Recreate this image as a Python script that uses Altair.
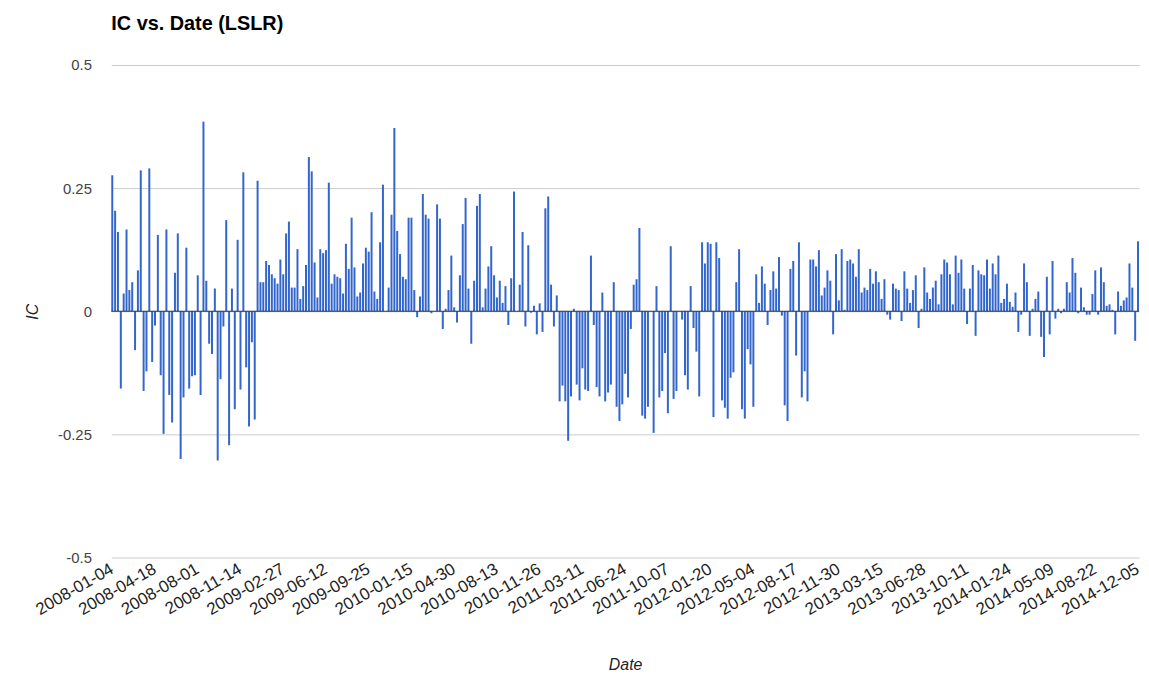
import altair as alt
import pandas as pd

# IC values, in date order (weekly, Fridays)
ic_part01 = [0.276, 0.204, 0.161, -0.157, 0.036, 0.166, 0.043, 0.059, -0.079, 0.083,
             0.286, -0.162, -0.122, 0.290, -0.103, -0.029, 0.155, -0.130, -0.249, 0.166,
             -0.170, -0.226, 0.078, 0.158, -0.300, -0.175, 0.129, -0.157, -0.132, -0.130]
ic_part02 = [0.073, -0.170, 0.385, 0.062, -0.066, -0.087, 0.046, -0.303, -0.138, -0.031,
             0.185, -0.272, 0.046, -0.199, 0.145, -0.159, 0.282, -0.114, -0.234, -0.063,
             -0.220, 0.265, 0.059, 0.059, 0.102, 0.094, 0.075, 0.067, 0.056, 0.105]
ic_part03 = [0.075, 0.158, 0.182, 0.048, 0.048, 0.126, 0.025, 0.051, 0.094, 0.313,
             0.284, 0.099, 0.028, 0.126, 0.118, 0.124, 0.261, 0.056, 0.075, 0.070,
             0.067, 0.036, 0.137, 0.086, 0.190, 0.089, 0.030, 0.038, 0.097, 0.129]
ic_part04 = [0.121, 0.201, 0.040, 0.025, 0.140, 0.257, 0.0, 0.048, 0.196, 0.372,
             0.163, 0.116, 0.070, 0.065, 0.190, 0.190, 0.043, -0.012, 0.030, 0.238,
             0.196, 0.188, -0.004, 0.0, 0.217, 0.188, -0.036, 0.005, 0.043, 0.113]
ic_part05 = [0.008, -0.023, 0.073, 0.177, 0.230, 0.046, -0.066, 0.062, 0.214, 0.238,
             0.008, 0.046, 0.091, 0.132, 0.073, 0.028, 0.062, 0.017, 0.051, -0.028,
             0.067, 0.243, 0.0, 0.054, 0.161, -0.031, 0.134, -0.003, 0.011, -0.047]
ic_part06 = [0.016, -0.042, 0.209, 0.233, 0.054, -0.031, 0.032, -0.183, -0.151, -0.183,
             -0.263, -0.173, 0.005, -0.149, -0.181, -0.116, -0.159, -0.162, 0.113, -0.028,
             -0.154, -0.173, 0.038, -0.183, -0.165, -0.149, 0.059, -0.194, -0.223, -0.189]
ic_part07 = [-0.127, -0.175, -0.036, 0.054, 0.065, 0.169, -0.212, -0.218, -0.194, 0.0,
             -0.247, 0.051, -0.175, -0.162, -0.085, -0.207, 0.132, -0.178, -0.162, 0.0,
             -0.017, -0.130, -0.159, 0.051, -0.034, -0.082, -0.173, 0.140, 0.097]
ic_part08 = [0.140, 0.137, -0.215, 0.140, 0.108, -0.181, -0.196, -0.218, -0.135, -0.124,
             0.059, 0.126, -0.199, -0.218, -0.077, -0.108, -0.194, 0.075, 0.017, 0.091,
             0.056, -0.028, 0.043, 0.081, 0.046, 0.110, -0.009, -0.191, -0.223, 0.086, 0.102]
ic_part09 = [-0.090, 0.140, -0.175, -0.122, -0.183, 0.105, 0.105, 0.091, 0.124, 0.032,
             0.048, 0.083, 0.062, -0.047, 0.116, 0.022, 0.126, 0.003, 0.102, 0.105,
             0.097, 0.070, 0.126, 0.038, 0.048, 0.043, 0.086, 0.056, 0.081, 0.059]
ic_part10 = [0.025, 0.065, -0.007, -0.017, 0.056, 0.046, 0.043, -0.020, 0.081, 0.046,
             0.017, 0.043, 0.073, -0.034, 0.005, 0.089, 0.038, 0.025, 0.048, 0.062,
             0.014, 0.075, 0.105, 0.099, 0.075, 0.014, 0.113, 0.078, 0.105, 0.046]
ic_part11 = [-0.026, 0.046, 0.094, -0.050, 0.083, 0.075, 0.073, 0.105, 0.046, 0.097,
             0.075, 0.113, 0.017, 0.025, 0.056, 0.019, 0.009, 0.038, -0.042, -0.007,
             0.097, 0.059, -0.050, 0.005, 0.025, 0.040, -0.052, -0.093, 0.070, -0.047]
ic_part12 = [0.102, -0.015, 0.005, -0.004, 0.005, 0.059, 0.038, 0.108, 0.078, -0.004,
             0.048, 0.008, -0.007, -0.007, 0.035, 0.083, -0.007, 0.089, 0.059, 0.011,
             0.014, 0.003, -0.047, 0.040, 0.011, 0.022, 0.028, 0.097, 0.048, -0.060, 0.142]

ic_values = (ic_part01 + ic_part02 + ic_part03 + ic_part04 + ic_part05 + ic_part06 +
             ic_part07 + ic_part08 + ic_part09 + ic_part10 + ic_part11 + ic_part12)

# weekly dates (the holiday week 2010-01-01 is absent in the source)
missing_dates = ["2010-01-01"]
dates = [d.strftime("%Y-%m-%d") for d in pd.date_range("2008-01-04", "2014-12-05", freq="7D")]
dates = [d for d in dates if d not in missing_dates]

tick_labels = ["2008-01-04", "2008-04-18", "2008-08-01", "2008-11-14", "2009-02-27",
               "2009-06-12", "2009-09-25", "2010-01-15", "2010-04-30", "2010-08-13",
               "2010-11-26", "2011-03-11", "2011-06-24", "2011-10-07", "2012-01-20",
               "2012-05-04", "2012-08-17", "2012-11-30", "2013-03-15", "2013-06-28",
               "2013-10-11", "2014-01-24", "2014-05-09", "2014-08-22", "2014-12-05"]
y_ticks = [-0.5, -0.25, 0, 0.25, 0.5]

n = min(len(dates), len(ic_values))
df = pd.DataFrame({"Date": dates[:n], "IC": ic_values[:n]})

FONT = "Liberation Sans"

bars = alt.Chart(df).mark_bar(color="#3366cc").encode(
    x=alt.X("Date:N", sort=None,
            scale=alt.Scale(paddingInner=0.3, paddingOuter=0),
            axis=alt.Axis(values=tick_labels, labelAngle=330, labelAlign="right",
                          labelBaseline="middle", labelPadding=10, labelOverlap=False,
                          labelFont=FONT, labelFontSize=17, labelColor="#222222",
                          ticks=False, tickSize=0, domain=False, grid=False,
                          title="Date", titleFont=FONT, titleFontSize=16,
                          titleFontStyle="italic", titleFontWeight="normal",
                          titleColor="#222222", titleY=108, titleBaseline="middle")),
    y=alt.Y("IC:Q", scale=alt.Scale(domain=[-0.5, 0.5], nice=False, zero=True),
            axis=alt.Axis(values=y_ticks, labelExpr="toString(datum.value)",
                          labelFont=FONT, labelFontSize=15, labelColor="#444444",
                          labelPadding=20, ticks=False, tickSize=0, domain=False,
                          grid=True, gridColor="#cccccc", gridWidth=1,
                          title="IC", titleFont=FONT, titleFontSize=16,
                          titleFontStyle="italic", titleFontWeight="normal",
                          titleColor="#222222", titleX=-79, titleY=248,
                          titleAlign="center", titleBaseline="middle")),
)

zero_line = alt.Chart(pd.DataFrame({"IC": [0.0]})).mark_rule(
    color="#333333", strokeWidth=1
).encode(y="IC:Q")

chart = alt.layer(bars, zero_line).properties(
    width=1035,
    height=496,
    title=alt.TitleParams("IC vs. Date (LSLR)", anchor="start", frame="group", font=FONT,
                          fontSize=20, fontWeight="bold", color="#000000", offset=24),
    autosize=alt.AutoSizeParams(type="none"),
    padding={"left": 104, "top": 55, "right": 2, "bottom": 122},
).configure_view(stroke=None)

chart.save("out.html", embed_options={"renderer": "svg", "actions": False})
